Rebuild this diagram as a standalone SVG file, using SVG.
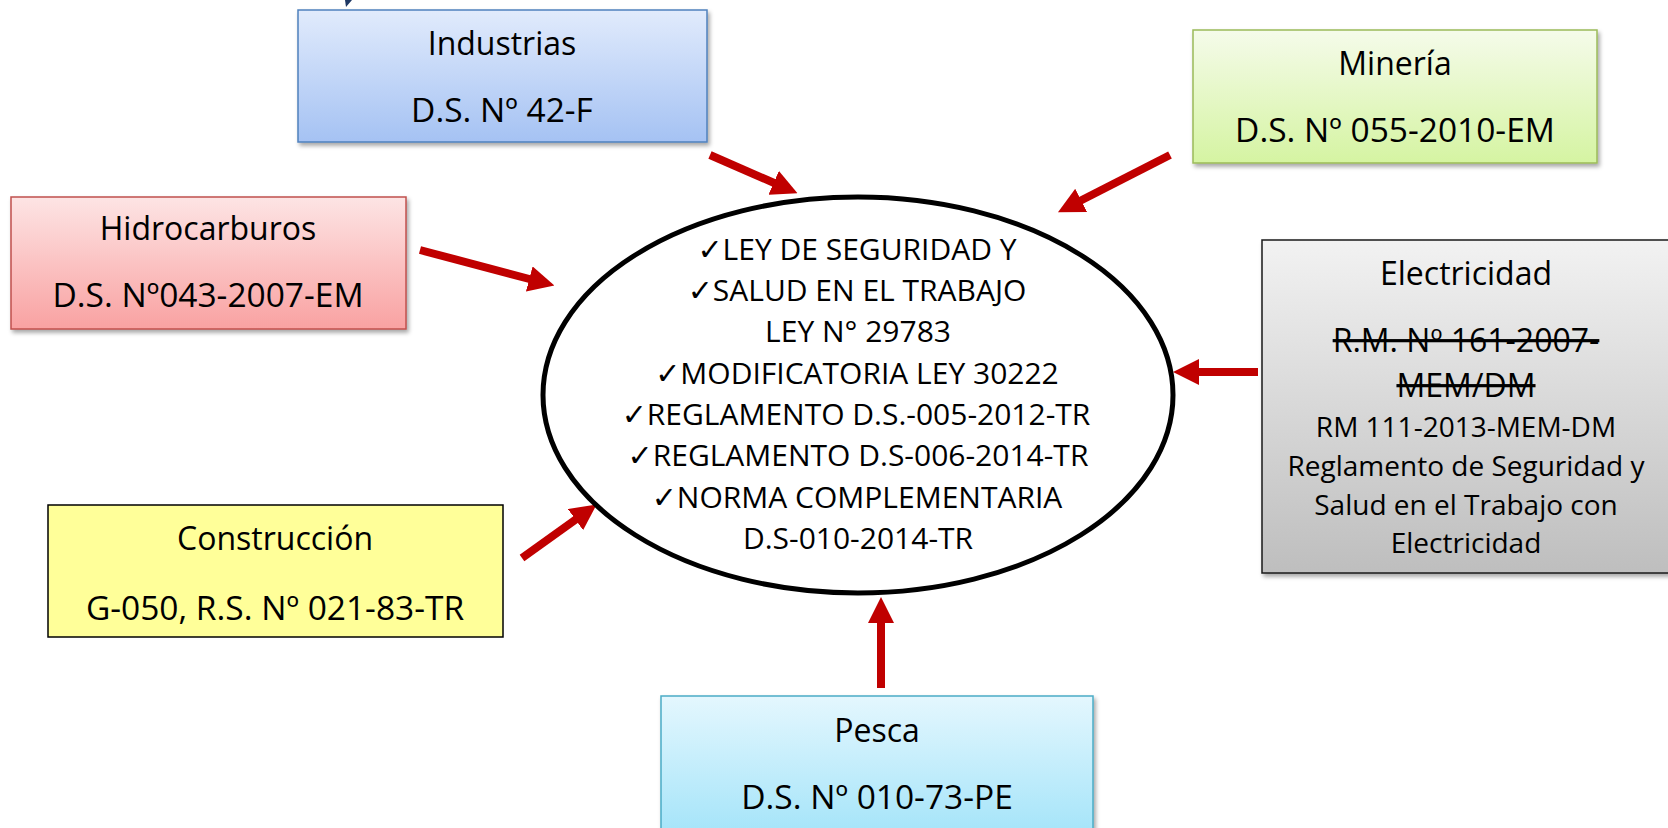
<svg xmlns="http://www.w3.org/2000/svg" width="1668" height="828" viewBox="0 0 1668 828">
<style>
.t{font-family:"Open Sans","Liberation Sans","DejaVu Sans",sans-serif;fill:#000;text-anchor:middle;font-size:32px}
.c{font-size:33.5px}
.s{font-size:28px}
.e{font-size:30px}
.strike{text-decoration:line-through}
.conn line{stroke:#c00000;stroke-width:8;marker-end:url(#ah)}
</style>
<defs>
<marker id="ah" markerUnits="userSpaceOnUse" markerWidth="26" markerHeight="26" refX="8" refY="13" orient="auto">
<path d="M0,0 L26,13 L0,26 z" fill="#c00000"/>
</marker>
<filter id="sh" x="-5%" y="-10%" width="115%" height="130%">
<feDropShadow dx="2" dy="3" stdDeviation="2" flood-color="#000" flood-opacity="0.35"/>
</filter>
<linearGradient id="gBlue" x1="0" y1="0" x2="0" y2="1"><stop offset="0" stop-color="#e1ebfc"/><stop offset="1" stop-color="#a5c2f3"/></linearGradient>
<linearGradient id="gGreen" x1="0" y1="0" x2="0" y2="1"><stop offset="0" stop-color="#f5fbea"/><stop offset="1" stop-color="#d5f4a2"/></linearGradient>
<linearGradient id="gRed" x1="0" y1="0" x2="0" y2="1"><stop offset="0" stop-color="#fde4e4"/><stop offset="1" stop-color="#f9a2a2"/></linearGradient>
<linearGradient id="gGray" x1="0" y1="0" x2="0" y2="1"><stop offset="0" stop-color="#f2f2f2"/><stop offset="1" stop-color="#bebebe"/></linearGradient>
<linearGradient id="gCyan" x1="0" y1="0" x2="0" y2="1"><stop offset="0" stop-color="#e4f7fe"/><stop offset="1" stop-color="#a4e4f9"/></linearGradient>
</defs>
<rect width="1668" height="828" fill="#fff"/>
<polygon points="345,0 352,0 346,7" fill="#1f3864"/>

<g class="conn">
<line x1="710" y1="155" x2="781" y2="186"/>
<line x1="1170" y1="155" x2="1074" y2="204"/>
<line x1="420" y1="250" x2="537" y2="281"/>
<line x1="1258" y1="372" x2="1191" y2="372"/>
<line x1="522" y1="558" x2="582" y2="515"/>
<line x1="881" y1="688" x2="881" y2="615"/>
</g>

<g id="centro">
<ellipse cx="858" cy="395" rx="315" ry="198" fill="#fff" stroke="#000" stroke-width="5"/>
<text class="t e" x="857" y="260">✓LEY DE SEGURIDAD Y</text>
<text class="t e" x="857" y="301">✓SALUD EN EL TRABAJO</text>
<text class="t e" x="858" y="342">LEY N° 29783</text>
<text class="t e" x="857" y="384">✓MODIFICATORIA LEY 30222</text>
<text class="t e" x="856" y="425">✓REGLAMENTO D.S.-005-2012-TR</text>
<text class="t e" x="858" y="466">✓REGLAMENTO D.S-006-2014-TR</text>
<text class="t e" x="857" y="508">✓NORMA COMPLEMENTARIA</text>
<text class="t e" x="858" y="549">D.S-010-2014-TR</text>
</g>

<g id="industrias">
<rect x="298" y="10" width="409" height="132" fill="url(#gBlue)" stroke="#4f81bd" stroke-width="1.5" filter="url(#sh)"/>
<text class="t" x="502" y="55">Industrias</text>
<text class="t c" x="502" y="122">D.S. Nº 42-F</text>
</g>

<g id="mineria">
<rect x="1193" y="30" width="404" height="133" fill="url(#gGreen)" stroke="#9bbb59" stroke-width="1.5" filter="url(#sh)"/>
<text class="t" x="1395" y="75">Minería</text>
<text class="t c" x="1395" y="142">D.S. Nº 055-2010-EM</text>
</g>

<g id="hidrocarburos">
<rect x="11" y="197" width="395" height="132" fill="url(#gRed)" stroke="#c0504d" stroke-width="1.5" filter="url(#sh)"/>
<text class="t" x="208" y="240">Hidrocarburos</text>
<text class="t c" x="208" y="307">D.S. Nº043-2007-EM</text>
</g>

<g id="electricidad">
<rect x="1262" y="240" width="412" height="333" fill="url(#gGray)" stroke="#1a1a1a" stroke-width="1.5" filter="url(#sh)"/>
<text class="t" x="1466" y="285">Electricidad</text>
<text class="t strike" x="1466" y="352">R.M. Nº 161-2007-</text>
<text class="t strike" x="1466" y="397">MEM/DM</text>
<text class="t s" x="1466" y="437">RM 111-2013-MEM-DM</text>
<text class="t s" x="1466" y="476">Reglamento de Seguridad y</text>
<text class="t s" x="1466" y="515">Salud en el Trabajo con</text>
<text class="t s" x="1466" y="553">Electricidad</text>
</g>

<g id="construccion">
<rect x="48" y="505" width="455" height="132" fill="#ffff99" stroke="#000" stroke-width="1.5"/>
<text class="t" x="275" y="550">Construcción</text>
<text class="t c" x="275" y="620">G-050, R.S. Nº 021-83-TR</text>
</g>

<g id="pesca">
<rect x="661" y="696" width="432" height="140" fill="url(#gCyan)" stroke="#4bacc6" stroke-width="1.5" filter="url(#sh)"/>
<text class="t" x="877" y="742">Pesca</text>
<text class="t c" x="877" y="809">D.S. Nº 010-73-PE</text>
</g>
</svg>
